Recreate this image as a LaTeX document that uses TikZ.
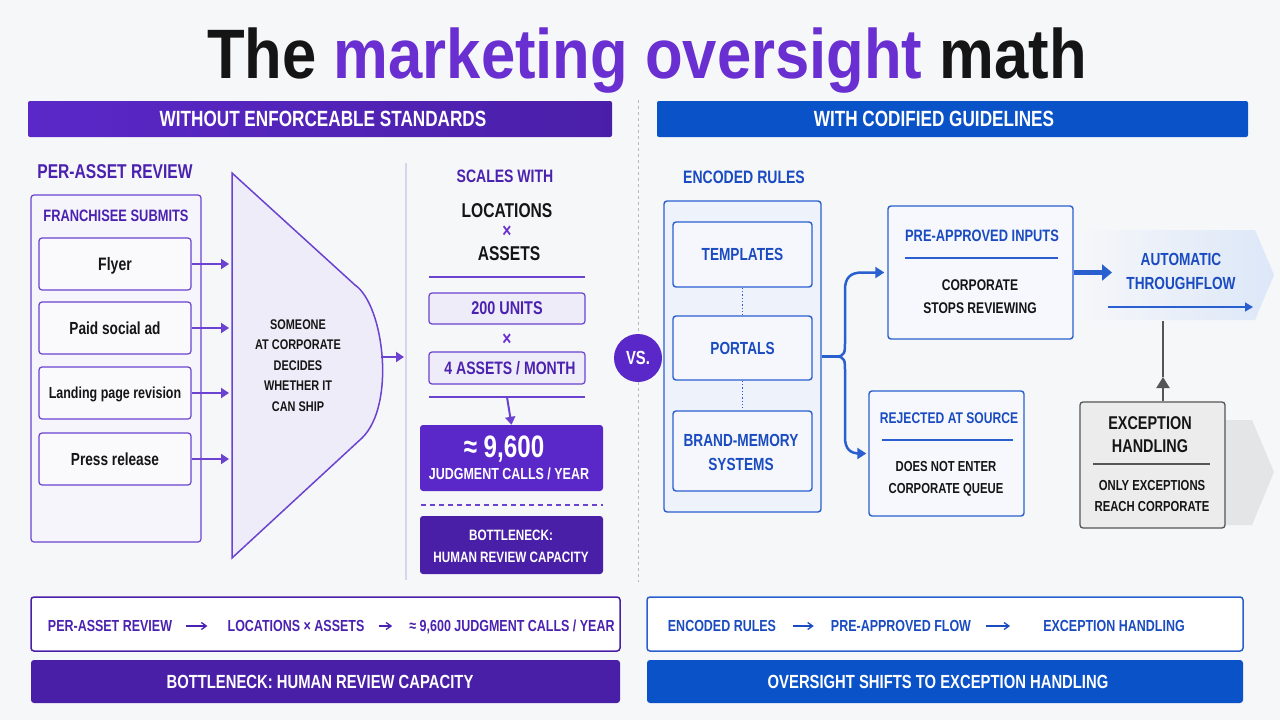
\documentclass[tikz,border=0pt]{standalone}
\usepackage{fontspec}
\setmainfont{Liberation Sans}[FakeStretch=0.78]
\newfontfamily\titlefont{Liberation Sans}[FakeStretch=0.88]
\usetikzlibrary{arrows.meta}
\definecolor{bg}{HTML}{F6F7F9}
\definecolor{pur}{HTML}{4B22B0}
\definecolor{purT}{HTML}{6A2FD0}
\definecolor{purL}{HTML}{6B43D0}
\definecolor{purF}{HTML}{5A28C8}
\definecolor{purD}{HTML}{4A1FA8}
\definecolor{lav}{HTML}{EFECF9}
\definecolor{lavL}{HTML}{F6F5FB}
\definecolor{lavLine}{HTML}{D9D3EE}
\definecolor{blu}{HTML}{1A4BC0}
\definecolor{bluB}{HTML}{2A5FD0}
\definecolor{bluF}{HTML}{0A52C8}
\definecolor{bluL}{HTML}{EEF2FB}
\definecolor{bluC}{HTML}{DCE7F8}
\definecolor{ink}{HTML}{151515}
\definecolor{gryB}{HTML}{555555}
\definecolor{gryF}{HTML}{ECECED}
\definecolor{gryC}{HTML}{E4E5E7}
\newcommand\fsz[1]{\fontsize{#1}{#1}\selectfont\bfseries}
\newcommand\capt[1]{\smash{#1}\vphantom{H}}
\begin{document}
\begin{tikzpicture}[x=1pt,y=-1pt,
  t/.style={inner sep=0pt},
  pbox/.style={draw=purL, line width=1.2pt, rounded corners=3pt, fill=lavL},
  bbox/.style={draw=bluB, line width=1.4pt, rounded corners=3pt, fill=bluL},
  parr/.style={draw=purL, line width=2pt, -{Triangle[length=8pt,width=10pt]}},
  barr/.style={draw=bluB, line width=2.5pt, -{Triangle[length=9pt,width=11pt]}},
  smarr/.style={line width=1.3pt, -{Straight Barb[length=5pt,width=7pt]}}]
\fill[bg] (0,0) rectangle (1280,720);
\useasboundingbox (0,0) rectangle (1280,720);

% title
\node[anchor=base, inner sep=0pt, text=ink, font=\titlefont\fontsize{70}{70}\selectfont\bfseries] (title) at (647,78) {The \textcolor{purT}{marketing oversight} math};

% headers
\node[minimum width=584pt, minimum height=36pt, inner sep=0pt, left color=purF, right color=purD, rounded corners=2pt] (hl) at (320,119) {};
\node[t, text=white, font=\fsz{22}] (hlt) at (323,119) {\capt{WITHOUT ENFORCEABLE STANDARDS}};
\node[minimum width=591pt, minimum height=36pt, inner sep=0pt, fill=bluF, rounded corners=2pt] (hr) at (952.5,119) {};
\node[t, text=white, font=\fsz{22}] (hrt) at (934,119) {\capt{WITH CODIFIED GUIDELINES}};

% divider
\draw[gray!55, line width=1pt, dash pattern=on 3pt off 3pt] (638,100) -- (638,582);

% ---------- left ----------
\node[t, text=pur, font=\fsz{20}] (par) at (115,172) {\capt{PER-ASSET REVIEW}};
\node[pbox, minimum width=170pt, minimum height=347pt] (franch) at (116,368.5) {};
\node[t, text=pur, font=\fsz{16.5}] (fst) at (116,216) {\capt{FRANCHISEE SUBMITS}};
\node[pbox, fill=white!50!lavL, minimum width=152pt, minimum height=52pt] (flyer) at (115,264) {};
\node[pbox, fill=white!50!lavL, minimum width=152pt, minimum height=52pt] (paid) at (115,328) {};
\node[pbox, fill=white!50!lavL, minimum width=152pt, minimum height=52pt] (land) at (115,393) {};
\node[pbox, fill=white!50!lavL, minimum width=152pt, minimum height=52pt] (press) at (115,459) {};
\node[t, text=ink, font=\fsz{18}] (flyert) at (flyer.center) {\capt{Flyer}};
\node[t, text=ink, font=\fsz{17.5}] (paidt) at (paid.center) {\capt{Paid social ad}};
\node[t, text=ink, font=\fsz{16}] (landt) at (land.center) {\capt{Landing page revision}};
\node[t, text=ink, font=\fsz{17.5}] (presst) at (press.center) {\capt{Press release}};

% funnel
\draw[draw=purL, line width=1.5pt, fill=lav] (232,173) -- (355,285) .. controls (384,305) and (396,405) .. (362,438) -- (232,558) -- cycle;
\coordinate (fi1) at (229,264);
\coordinate (fi2) at (229,328);
\coordinate (fi3) at (229,393);
\coordinate (fi4) at (229,459);
\draw[parr] (flyer.east) -- (fi1);
\draw[parr] (paid.east) -- (fi2);
\draw[parr] (land.east) -- (fi3);
\draw[parr] (press.east) -- (fi4);
\node[t, text=ink, font=\fsz{14}] (f1) at (298,325) {\capt{SOMEONE}};
\node[t, text=ink, font=\fsz{14}] (f2) at (298,345) {\capt{AT CORPORATE}};
\node[t, text=ink, font=\fsz{14}] (f3) at (298,366) {\capt{DECIDES}};
\node[t, text=ink, font=\fsz{14}] (f4) at (298,386) {\capt{WHETHER IT}};
\node[t, text=ink, font=\fsz{14}] (f5) at (298,407) {\capt{CAN SHIP}};
\coordinate (fo) at (381,357);
\coordinate (fo2) at (404,357);
\draw[parr] (fo) -- (fo2);

\draw[lavLine, line width=1.5pt] (406,163) -- (406,580);

% middle column
\node[t, text=pur, font=\fsz{18}] (sw) at (505,176) {\capt{SCALES WITH}};
\node[t, text=ink, font=\fsz{20}] (loc) at (507,211) {\capt{LOCATIONS}};
\node[t, text=purT, font=\fsz{20}] (x1) at (507,231) {\capt{×}};
\node[t, text=ink, font=\fsz{20}] (ass) at (509,254) {\capt{ASSETS}};
\draw[purL, line width=1.5pt] (429,277) -- (585,277);
\node[pbox, fill=lav, minimum width=156pt, minimum height=31pt] (u200) at (507,308.5) {};
\node[t, text=pur, font=\fsz{18.5}] (u200t) at (u200.center) {\capt{200 UNITS}};
\node[t, text=purT, font=\fsz{20}] (x2) at (507,339) {\capt{×}};
\node[pbox, fill=lav, minimum width=156pt, minimum height=32pt] (a4) at (507,368) {};
\node[t, text=pur, font=\fsz{18}] (a4t) at (510,368) {\capt{4 ASSETS / MONTH}};
\draw[purL, line width=1.5pt] (429,397) -- (585,397);
\coordinate (l2m) at (507,397);
\node[fill=purF, rounded corners=3pt, minimum width=183pt, minimum height=66pt, inner sep=0pt] (big) at (511.5,458) {};
\draw[parr] (l2m) -- (big.north);
\node[t, text=white, font=\fsz{31}] (bign) at (504,447) {\capt{≈ 9,600}};
\node[t, text=white, font=\fsz{16}] (bigt) at (509,474) {\capt{JUDGMENT CALLS / YEAR}};
\draw[purL, line width=1.2pt, dash pattern=on 5pt off 4pt] (421,505) -- (603,505);
\node[fill=purD, rounded corners=3pt, minimum width=183pt, minimum height=58pt, inner sep=0pt] (bott) at (511.5,545) {};
\node[t, text=white, font=\fsz{15}] (bott1) at (511,535) {\capt{BOTTLENECK:}};
\node[t, text=white, font=\fsz{15}] (bott2) at (511,557) {\capt{HUMAN REVIEW CAPACITY}};

% VS
\node[circle, fill=purF, minimum size=48pt, inner sep=0pt, text=white, font=\fsz{19}] (vs) at (638,358) {\capt{VS.}};

% ---------- right ----------
\node[t, text=blu, font=\fsz{18}] (er) at (744,177) {\capt{ENCODED RULES}};
\node[bbox, minimum width=157pt, minimum height=311pt] (enc) at (742.5,356.5) {};
\node[bbox, fill=white!40!bluL, minimum width=139pt, minimum height=65pt] (tem) at (742.5,254.5) {};
\node[bbox, fill=white!40!bluL, minimum width=139pt, minimum height=64pt] (por) at (742.5,348) {};
\node[bbox, fill=white!40!bluL, minimum width=139pt, minimum height=80pt] (bra) at (742.5,451) {};
\node[t, text=blu, font=\fsz{17.5}] (temt) at (tem.center) {\capt{TEMPLATES}};
\node[t, text=blu, font=\fsz{17.5}] (port) at (por.center) {\capt{PORTALS}};
\node[t, text=blu, font=\fsz{17.5}] (bra1) at (741,440) {\capt{BRAND-MEMORY}};
\node[t, text=blu, font=\fsz{17.5}] (bra2) at (741,464) {\capt{SYSTEMS}};
\draw[bluB, line width=1.3pt, dotted] (tem.south) -- (por.north);
\draw[bluB, line width=1.3pt, dotted] (por.south) -- (bra.north);

% chevron behind automatic throughflow
\shade[left color=bg, right color=bluC] (1075,230) -- (1255,230) -- (1274,275) -- (1255,320) -- (1075,320) -- cycle;
% gray chevron behind exception
\fill[gryC] (1180,420) -- (1252,420) -- (1274,472) -- (1252,525) -- (1180,525) -- cycle;

\node[bbox, fill=white!50!bluL, minimum width=185pt, minimum height=133pt] (pre) at (980.5,272.5) {};
\node[t, text=blu, font=\fsz{16.5}] (pret) at (982,236) {\capt{PRE-APPROVED INPUTS}};
\draw[bluB, line width=1.5pt] (905,258) -- (1058,258);
\node[t, text=ink, font=\fsz{15.5}] (pre1) at (980,285) {\capt{CORPORATE}};
\node[t, text=ink, font=\fsz{15.5}] (pre2) at (980,308) {\capt{STOPS REVIEWING}};

\node[bbox, fill=white!50!bluL, minimum width=155pt, minimum height=125pt] (rej) at (946.5,453.5) {};
\node[t, text=blu, font=\fsz{15.5}] (rejt) at (949,418) {\capt{REJECTED AT SOURCE}};
\draw[bluB, line width=1.5pt] (882,440) -- (1013,440);
\node[t, text=ink, font=\fsz{14.5}] (rej1) at (946,467) {\capt{DOES NOT ENTER}};
\node[t, text=ink, font=\fsz{14.5}] (rej2) at (946,489) {\capt{CORPORATE QUEUE}};

% branch
\coordinate (j) at (836,356.5);
\draw[bluB, line width=2.5pt] (enc.east) -- (j);
\draw[barr] (j) .. controls (845,356.5) and (845,352) .. (845,342) -- (845,290) .. controls (845,278) and (850,272.5) .. (862,272.5) -- ([xshift=-3pt]pre.west);
\draw[barr] (j) .. controls (845,356.5) and (845,361) .. (845,371) -- (845,437) .. controls (845,449) and (850,453.5) .. (860,453.5) -- ([xshift=-2pt]rej.west);

% automatic throughflow
\coordinate (autoin) at (1112,272.5);
\draw[bluB, line width=5pt, -{Triangle[length=10pt,width=16pt]}] (pre.east) -- (autoin);
\node[t, text=blu, font=\fsz{17.5}] (au1) at (1181,259) {\capt{AUTOMATIC}};
\node[t, text=blu, font=\fsz{17.5}] (au2) at (1181,283) {\capt{THROUGHFLOW}};
\coordinate (ta1) at (1108,307);
\coordinate (ta2) at (1253,307);
\draw[bluB, line width=1.5pt, -{Triangle[length=8pt,width=9pt]}] (ta1) -- (ta2);

% exception handling
\node[draw=gryB, line width=1.3pt, fill=gryF, rounded corners=3pt, minimum width=145pt, minimum height=126pt, inner sep=0pt] (exc) at (1152.5,465) {};
\node[t, text=ink, font=\fsz{18.5}] (ex1) at (1150,423) {\capt{EXCEPTION}};
\node[t, text=ink, font=\fsz{18.5}] (ex2) at (1150,446) {\capt{HANDLING}};
\draw[gryB, line width=1.2pt] (1093,464) -- (1210,464);
\node[t, text=ink, font=\fsz{14.5}] (ex3) at (1152,486) {\capt{ONLY EXCEPTIONS}};
\node[t, text=ink, font=\fsz{14.5}] (ex4) at (1152,507) {\capt{REACH CORPORATE}};
\coordinate (gtop) at (1163,321);
\coordinate (gmid) at (1163,377);
\draw[gryB, line width=2pt, -{Triangle[length=11pt,width=13pt]}] ([xshift=10.5pt]exc.north) -- (gmid);
\draw[gryB, line width=2pt] (gmid) -- (gtop);

% ---------- bottom ----------
\node[draw=purD, line width=1.5pt, fill=white, rounded corners=3pt, minimum width=589pt, minimum height=54pt, inner sep=0pt] (fl) at (325.5,624) {};
\node[t, text=pur, font=\fsz{16}] (fl1) at (110,626) {\capt{PER-ASSET REVIEW}};
\node[t, text=pur, font=\fsz{16}] (fl2) at (296,626) {\capt{LOCATIONS × ASSETS}};
\node[t, text=pur, font=\fsz{16}] (fl3) at (512,626) {\capt{≈ 9,600 JUDGMENT CALLS / YEAR}};
\draw[smarr, pur] ([xshift=14pt]fl1.east) -- ([xshift=-20pt]fl2.west);
\draw[smarr, pur] ([xshift=14pt]fl2.east) -- ([xshift=-17pt]fl3.west);
\node[fill=purD, rounded corners=3pt, minimum width=589pt, minimum height=43pt, inner sep=0pt] (bl) at (325.5,681.5) {};
\node[t, text=white, font=\fsz{19}] (blt) at (320,682) {\capt{BOTTLENECK: HUMAN REVIEW CAPACITY}};

\node[draw=bluB, line width=1.5pt, fill=white, rounded corners=3pt, minimum width=596pt, minimum height=54pt, inner sep=0pt] (fr) at (945,624) {};
\node[t, text=blu, font=\fsz{16}] (fr1) at (722,626) {\capt{ENCODED RULES}};
\node[t, text=blu, font=\fsz{16}] (fr2) at (901,626) {\capt{PRE-APPROVED FLOW}};
\node[t, text=blu, font=\fsz{16}] (fr3) at (1114,626) {\capt{EXCEPTION HANDLING}};
\draw[smarr, blu] ([xshift=17pt]fr1.east) -- ([xshift=-17pt]fr2.west);
\draw[smarr, blu] ([xshift=15pt]fr2.east) -- ([xshift=-33pt]fr3.west);
\node[fill=bluF, rounded corners=3pt, minimum width=596pt, minimum height=43pt, inner sep=0pt] (br) at (945,681.5) {};
\node[t, text=white, font=\fsz{19}] (brt) at (938,682) {\capt{OVERSIGHT SHIFTS TO EXCEPTION HANDLING}};
\end{tikzpicture}
\end{document}
